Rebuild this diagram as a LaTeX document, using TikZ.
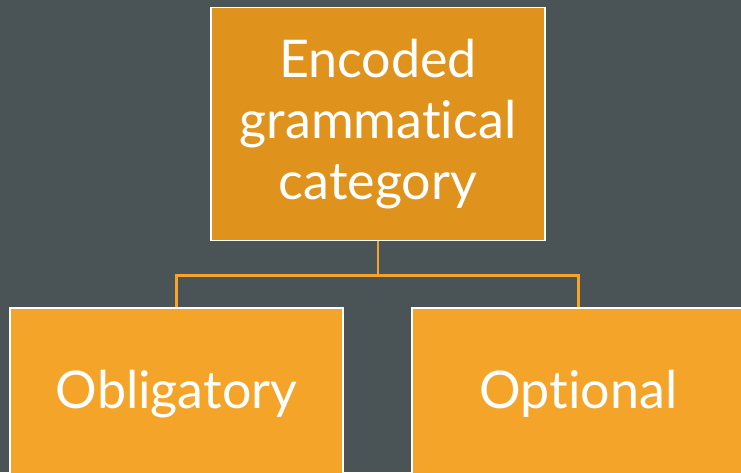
\documentclass[tikz,border=0pt]{standalone}
\usepackage{fontspec}
\setmainfont[Ligatures=NoCommon]{Lato}
\usetikzlibrary{positioning}
\definecolor{slate}{HTML}{4A5356}
\definecolor{darkorange}{HTML}{E0931C}
\definecolor{lightorange}{HTML}{F5A42A}
\tikzset{
  catbox/.style={draw=white,line width=1.5pt,text=white,align=center,inner sep=0pt,
    font=\fontsize{52}{61}\selectfont},
  link/.style={draw=lightorange,line width=2.6pt}
}
\begin{document}
\begin{tikzpicture}[x=1pt,y=-1pt]
\fill[slate] (0,0) rectangle (741,472);
\clip (0,0) rectangle (741,472);

\node (cat) at (378,124)[catbox,fill=darkorange,minimum width=334pt,minimum height=233pt] {Encoded\\grammatical\\category};
\node (obl) at (176.5,394)[catbox,fill=lightorange,minimum width=333pt,minimum height=172pt] {Obligatory};
\node (opt) at (578.5,394)[catbox,fill=lightorange,minimum width=333pt,minimum height=172pt] {Optional};
\draw [link] (cat.south) -- ++(0,34) -| (obl.north);
\draw [link] (cat.south) -- ++(0,34) -| (opt.north);
\end{tikzpicture}
\end{document}
